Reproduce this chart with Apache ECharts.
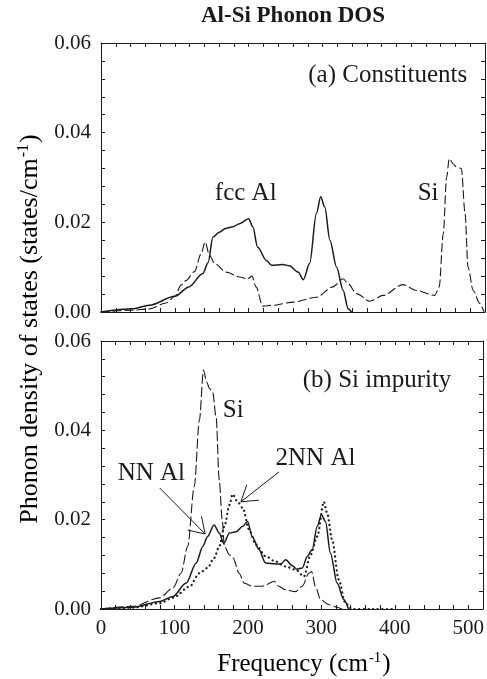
<!DOCTYPE html>
<html>
<head>
<meta charset="utf-8">
<style>html,body{margin:0;padding:0;background:#fff}#c{width:487px;height:679px}</style>
<script src="https://cdn.jsdelivr.net/npm/echarts@6/dist/echarts.min.js"></script>
</head>
<body>
<div id="c"></div>
<script>
// ---- data (frequency cm^-1, DOS states/cm^-1) ----
var fccAlX = [0, 43, 65.6, 100, 119, 138, 145, 151.5, 160, 169.6, 178.6, 187.6, 200, 205.6, 212, 224, 231, 246, 255, 267, 274, 282.5, 291.7, 297.5, 303, 310, 319, 328, 334.6, 339];
var fccAlY = [0, 0.0007, 0.0015, 0.0035, 0.0056, 0.0086, 0.011, 0.0167, 0.0178, 0.0187, 0.019, 0.0197, 0.0208, 0.019, 0.0145, 0.0115, 0.0104, 0.0106, 0.0103, 0.0089, 0.0072, 0.0108, 0.022, 0.0257, 0.0234, 0.016, 0.010, 0.0048, 0.0007, 0];
var siBulkX = [0, 43, 65.6, 88, 100, 108.5, 115, 126.6, 135.6, 141, 147, 154, 169.6, 187.6, 198.6, 204.4, 210, 219, 232.8, 260, 291.7, 314, 328, 334.6, 346, 364, 382, 409, 427, 452, 458, 463.5, 468, 471.6, 477, 481.6, 488, 493, 497, 504, 513, 518.6];
var siBulkY = [0, 0.0004, 0.0007, 0.002, 0.0035, 0.006, 0.007, 0.009, 0.013, 0.0156, 0.0126, 0.0108, 0.0089, 0.0078, 0.0074, 0.008, 0.0056, 0.0013, 0.0015, 0.0022, 0.0033, 0.0056, 0.0074, 0.0063, 0.0041, 0.0024, 0.0037, 0.0061, 0.0048, 0.0037, 0.0056, 0.0175, 0.030, 0.0342, 0.033, 0.0323, 0.032, 0.022, 0.010, 0.0048, 0.0019, 0];

var siImpX = [0, 43.8, 80, 98, 109, 118, 127, 134, 139.5, 144, 147.6, 152, 156.7, 161, 165, 168, 175, 180, 188, 195, 206, 220, 224, 235.7, 242, 251, 265, 274, 283, 286.7, 292, 299, 310, 321, 328];
var siImpY = [0, 0.0006, 0.0025, 0.0047, 0.008, 0.014, 0.0274, 0.0423, 0.0535, 0.0508, 0.0494, 0.0486, 0.043, 0.0289, 0.02, 0.014, 0.0121, 0.0114, 0.008, 0.0058, 0.0051, 0.0051, 0.0054, 0.0062, 0.0051, 0.0043, 0.0039, 0.0051, 0.008, 0.0084, 0.005, 0.0021, 0.001, 0.0004, 0];
var nnAlX = [0, 43.8, 80, 98, 116, 129.6, 138.6, 145, 154, 161, 167, 175, 184, 193, 199.5, 206, 215, 224, 238, 244.7, 251.5, 260.5, 267, 274, 281, 287.6, 294.4, 300.2, 305.6, 312.4, 321.5, 330.5, 337];
var nnAlY = [0, 0.0004, 0.0017, 0.0028, 0.0058, 0.0103, 0.014, 0.0162, 0.0188, 0.017, 0.0147, 0.017, 0.0173, 0.0185, 0.0196, 0.0162, 0.0133, 0.0103, 0.0101, 0.0101, 0.011, 0.0097, 0.0089, 0.0092, 0.0118, 0.0133, 0.0185, 0.0211, 0.0196, 0.0125, 0.0058, 0.0021, 0];
var nn2AlX = [0, 43.8, 80, 98, 120.5, 134, 145, 154, 161, 168, 175, 179, 186, 193, 201.8, 210.8, 224.4, 238, 251.5, 265, 276.3, 285.3, 294.4, 303.4, 308, 314.7, 323.7, 332.7, 341.8, 370, 400];
var nn2AlY = [0, 0.0003, 0.0013, 0.0025, 0.005, 0.008, 0.0092, 0.0114, 0.014, 0.0185, 0.0233, 0.0257, 0.024, 0.0226, 0.0177, 0.0144, 0.0118, 0.0106, 0.0095, 0.0088, 0.0073, 0.0121, 0.0162, 0.024, 0.0214, 0.0155, 0.0066, 0.0013, 0, 0, 0];

var xTickLabels = [0, 100, 200, 300, 400, 500];
var yTickLabels = [0, 0.02, 0.04, 0.06];

// annotations in data coordinates
var notes = [
  {grid: 0, text: '(a) Constituents', x: 496, y: 0.0528, align: 'right'},
  {grid: 0, text: 'fcc Al', x: 196, y: 0.0265, align: 'center'},
  {grid: 0, text: 'Si', x: 443, y: 0.0265, align: 'center'},
  {grid: 1, text: '(b) Si impurity', x: 477, y: 0.0512, align: 'right'},
  {grid: 1, text: 'Si', x: 180, y: 0.0445, align: 'center'},
  {grid: 1, text: 'NN Al', x: 68.6, y: 0.0304, align: 'center'},
  {grid: 1, text: '2NN Al', x: 292, y: 0.0337, align: 'center'}
];
var arrows = [
  {from: [79.9, 0.0271], to: [141.8, 0.0168]},
  {from: [242.4, 0.0307], to: [190.5, 0.0240]}
];

function pairs(xs, ys) { return xs.map(function (x, i) { return [x, ys[i]]; }); }

var FONT = '"Liberation Serif", "Times New Roman", serif';
var BLACK = '#1a1a1a';

function xAxis(gridIndex, pos, labels) {
  return {
    type: 'value', gridIndex: gridIndex, position: pos, min: 0, max: 520, interval: 20,
    axisLine: {show: true, onZero: false, lineStyle: {color: BLACK, width: 1}},
    axisTick: {show: true, inside: true, length: 4, lineStyle: {color: BLACK}},
    splitLine: {show: false},
    axisLabel: {
      show: labels, margin: 9, fontFamily: FONT, fontSize: 21, color: BLACK,
      formatter: function (v) { return xTickLabels.indexOf(Math.round(v)) >= 0 && Math.abs(v - Math.round(v)) < 1e-6 ? String(Math.round(v)) : ''; }
    }
  };
}
function yAxis(gridIndex, pos, labels) {
  return {
    type: 'value', gridIndex: gridIndex, position: pos, min: 0, max: 0.06, interval: 0.004,
    axisLine: {show: true, onZero: false, lineStyle: {color: BLACK, width: 1}},
    axisTick: {show: true, inside: true, length: 4, lineStyle: {color: BLACK}},
    splitLine: {show: false},
    axisLabel: {
      show: labels, margin: 10, fontFamily: FONT, fontSize: 21, color: BLACK,
      formatter: function (v) {
        for (var i = 0; i < yTickLabels.length; i++) {
          if (Math.abs(v - yTickLabels[i]) < 1e-6) return yTickLabels[i].toFixed(2);
        }
        return '';
      }
    }
  };
}

function line(name, xi, yi, data, type, width, dash) {
  return {
    name: name, type: 'line', xAxisIndex: xi, yAxisIndex: yi, data: data,
    showSymbol: false, symbol: 'none', smooth: 0.3, smoothMonotone: 'x', silent: true, animation: false,
    lineStyle: {color: BLACK, width: width, type: dash || type, cap: 'round'}
  };
}

var chart = echarts.init(document.getElementById('c'), null, {renderer: 'canvas'});
chart.setOption({
  backgroundColor: '#fff',
  animation: false,
  grid: [
    {left: 101, top: 43, width: 384, height: 269},
    {left: 101, top: 341, width: 384, height: 268}
  ],
  xAxis: [xAxis(0, 'bottom', false), xAxis(0, 'top', false), xAxis(1, 'bottom', true), xAxis(1, 'top', false)],
  yAxis: [yAxis(0, 'left', true), yAxis(0, 'right', false), yAxis(1, 'left', true), yAxis(1, 'right', false)],
  series: [
    line('fcc Al', 0, 0, pairs(fccAlX, fccAlY), 'solid', 1.5),
    line('Si', 0, 0, pairs(siBulkX, siBulkY), 'dashed', 1.1, [8, 4]),
    line('Si impurity', 2, 2, pairs(siImpX, siImpY), 'dashed', 1.1, [9, 4]),
    line('NN Al', 2, 2, pairs(nnAlX, nnAlY), 'solid', 1.5),
    line('2NN Al', 2, 2, pairs(nn2AlX, nn2AlY), 'dotted', 2.2, [0.1, 4.5])
  ]
});

// ---- text and arrows positioned via the axes ----
var g = [];
g.push({type: 'text', x: 293, y: 16, style: {text: 'Al-Si Phonon DOS', font: 'bold 23px ' + FONT, fill: BLACK, align: 'center', verticalAlign: 'middle'}});
notes.forEach(function (n) {
  var p = chart.convertToPixel({xAxisIndex: n.grid * 2, yAxisIndex: n.grid * 2}, [n.x, n.y]);
  g.push({type: 'text', x: p[0], y: p[1], style: {text: n.text, font: '25px ' + FONT, fill: BLACK, align: n.align, verticalAlign: 'middle'}});
});
arrows.forEach(function (a) {
  var p0 = chart.convertToPixel({xAxisIndex: 2, yAxisIndex: 2}, a.from);
  var p1 = chart.convertToPixel({xAxisIndex: 2, yAxisIndex: 2}, a.to);
  var ang = Math.atan2(p0[1] - p1[1], p0[0] - p1[0]);
  var L = 18, w = 33 * Math.PI / 180;
  g.push({type: 'line', shape: {x1: p0[0], y1: p0[1], x2: p1[0], y2: p1[1]}, style: {stroke: BLACK, lineWidth: 1}});
  g.push({type: 'polyline', shape: {points: [
    [p1[0] + L * Math.cos(ang + w), p1[1] + L * Math.sin(ang + w)],
    [p1[0], p1[1]],
    [p1[0] + L * Math.cos(ang - w), p1[1] + L * Math.sin(ang - w)]
  ]}, style: {stroke: BLACK, lineWidth: 1, fill: null}});
});
// axis titles
var xa0 = chart.convertToPixel({xAxisIndex: 2}, 260);
var ybot = chart.convertToPixel({yAxisIndex: 2}, 0);
g.push({type: 'text', x: xa0 + 12, y: ybot + 55, style: {
  text: '{m|Frequency (cm}{s|-1}{m|)}', align: 'center', verticalAlign: 'middle',
  rich: {m: {fontFamily: FONT, fontSize: 25, color: BLACK},
         s: {fontFamily: FONT, fontSize: 15, color: BLACK, verticalAlign: 'top', padding: [0, 1, 12, 1]}}
}});
var ytop = chart.convertToPixel({yAxisIndex: 0}, 0.06);
g.push({type: 'text', x: 30, y: (ytop + ybot) / 2 + 3, rotation: Math.PI / 2, style: {
  text: '{m|Phonon density of states (states/cm}{s|-1}{m|)}', align: 'center', verticalAlign: 'middle',
  rich: {m: {fontFamily: FONT, fontSize: 26, color: BLACK},
         s: {fontFamily: FONT, fontSize: 16, color: BLACK, verticalAlign: 'top', padding: [0, 1, 12, 1]}}
}});
chart.setOption({graphic: g});
</script>
</body>
</html>
